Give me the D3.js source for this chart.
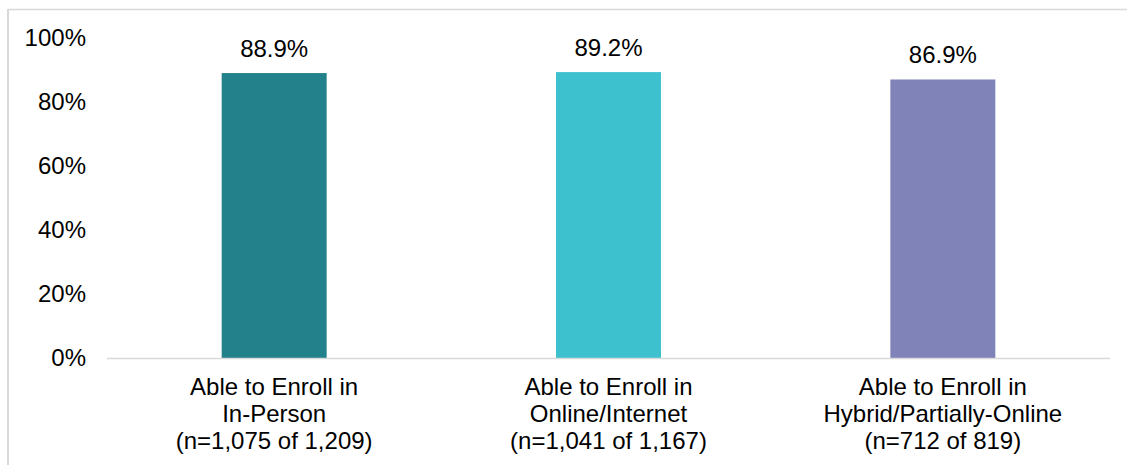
<!DOCTYPE html>
<html>
<head>
<meta charset="utf-8">
<script src="https://cdn.jsdelivr.net/npm/d3@7"></script>
<style>
  html, body { margin: 0; padding: 0; background: #fff; }
  svg { display: block; font-family: "Liberation Sans", Arial, sans-serif; }
</style>
</head>
<body>
<svg id="chart" width="1127" height="465"></svg>
<script>
// Enrollment categories, each label split into its lines
const categoryLines = [
  ["Able to Enroll in", "In-Person", "(n=1,075 of 1,209)"],
  ["Able to Enroll in", "Online/Internet", "(n=1,041 of 1,167)"],
  ["Able to Enroll in", "Hybrid/Partially-Online", "(n=712 of 819)"]
];
const categoryKeys = ["inperson", "online", "hybrid"];
const percentValues = [88.9, 89.2, 86.9];
const barColors = ["#22818B", "#3DC1CF", "#7F83B8"];
const yTicks = [0, 20, 40, 60, 80, 100];

(function draw() {
  const svg = d3.select("#chart");
  const W = 1127, H = 465;
  const plotLeft = 107, plotRight = 1110, plotTop = 37.5, plotBottom = 358;
  const fontSize = 24;

  // Outer frame (left and top edges visible)
  svg.append("line").attr("x1", 8).attr("x2", 8).attr("y1", 9).attr("y2", H)
    .attr("stroke", "#D9D9D9").attr("stroke-width", 2);
  svg.append("line").attr("x1", 8).attr("x2", W).attr("y1", 9.5).attr("y2", 9.5)
    .attr("stroke", "#D9D9D9").attr("stroke-width", 1.5);

  const x = d3.scaleBand().domain(categoryKeys).range([plotLeft, plotRight])
    .paddingInner(0.686).paddingOuter(0.343);
  const y = d3.scaleLinear().domain([0, 100]).range([plotBottom, plotTop]);

  // Y axis labels
  const yAxis = d3.axisLeft(y).tickValues(yTicks).tickFormat(d => d + "%").tickSize(0).tickPadding(0);
  const gy = svg.append("g").attr("transform", "translate(86,0)").call(yAxis);
  gy.select(".domain").remove();
  gy.selectAll("text").attr("font-size", fontSize).attr("fill", "#000")
    .attr("font-family", "Liberation Sans, Arial, sans-serif");

  // Bars
  const data = categoryKeys.map((k, i) => ({ key: k, value: percentValues[i], color: barColors[i], lines: categoryLines[i] }));
  svg.selectAll("rect.bar").data(data).enter().append("rect")
    .attr("class", "bar")
    .attr("x", d => x(d.key))
    .attr("width", x.bandwidth())
    .attr("y", d => y(d.value))
    .attr("height", d => y(0) - y(d.value))
    .attr("fill", d => d.color);

  // Baseline
  svg.append("line").attr("x1", plotLeft).attr("x2", plotRight)
    .attr("y1", plotBottom + 0.5).attr("y2", plotBottom + 0.5)
    .attr("stroke", "#D9D9D9").attr("stroke-width", 1.5);

  // Value labels
  svg.selectAll("text.val").data(data).enter().append("text")
    .attr("class", "val")
    .attr("x", d => x(d.key) + x.bandwidth() / 2)
    .attr("y", d => y(d.value) - 16)
    .attr("text-anchor", "middle")
    .attr("font-size", fontSize)
    .attr("fill", "#000")
    .text(d => d.value.toFixed(1) + "%");

  // Category labels
  const cat = svg.selectAll("text.cat").data(data).enter().append("text")
    .attr("class", "cat")
    .attr("text-anchor", "middle")
    .attr("font-size", fontSize)
    .attr("fill", "#000");
  cat.selectAll("tspan").data(d => d.lines.map(l => ({ l, cx: x(d.key) + x.bandwidth() / 2 })))
    .enter().append("tspan")
    .attr("x", d => d.cx)
    .attr("y", (d, i) => 395 + i * 27)
    .text(d => d.l);
})();
</script>
</body>
</html>
